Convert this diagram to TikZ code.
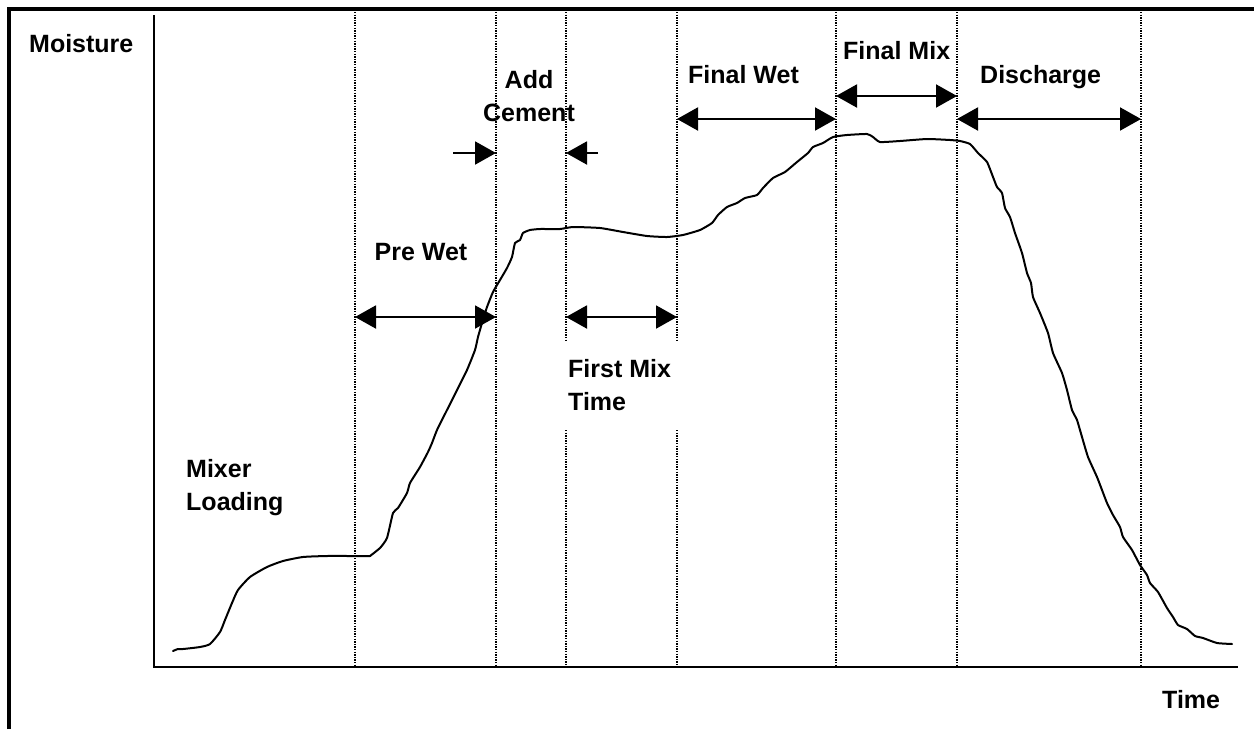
\documentclass[tikz,border=0pt]{standalone}
\usepackage{fontspec}
\setmainfont{Liberation Sans}
\usetikzlibrary{arrows.meta}
\tikzset{
  lbl/.style={font=\bfseries\fontsize{25}{33}\selectfont, inner sep=0pt, align=left},
  frameline/.style={line width=3.5pt},
  axisline/.style={line width=2pt},
  phaseline/.style={line width=1.2pt, dash pattern=on 1.3pt off 1.3pt},
  span/.style={line width=2pt, {Triangle[length=21pt,width=23pt]}-{Triangle[length=21pt,width=23pt]}},
  single/.style={line width=2pt, -{Triangle[length=21pt,width=23pt]}},
  curve/.style={line width=2pt, line join=round, line cap=round}
}
\begin{document}
\begin{tikzpicture}[x=1pt,y=-1pt]
\useasboundingbox (0,0) rectangle (1254,729);
% frame
\draw[frameline] (9,729) -- (9,9) -- (1254,9);
% axes
\draw[axisline] (154,15) -- (154,667) -- (1238,667);
% phase boundaries
\draw[phaseline] (355,12) -- (355,667);
\draw[phaseline] (496,12) -- (496,667);
\draw[phaseline] (566,12) -- (566,342);
\draw[phaseline] (566,430) -- (566,667);
\draw[phaseline] (677,12) -- (677,342);
\draw[phaseline] (677,430) -- (677,667);
\draw[phaseline] (836,12) -- (836,667);
\draw[phaseline] (957,12) -- (957,667);
\draw[phaseline] (1141,12) -- (1141,667);
% labels
\node[lbl, anchor=base west] (moist) at (29,52) {Moisture};
\node[lbl, anchor=base west] (time) at (1162,708) {Time};
\node[lbl, anchor=base west] (mixload) at (186,510) {Mixer\\Loading};
\node[lbl, anchor=base] (prewet) at (421,260) {Pre Wet};
\node[lbl, anchor=base, align=center] (addcem) at (529,121) {Add\\Cement};
\node[lbl, anchor=base west] (firstmix) at (568,410) {First Mix\\Time};
\node[lbl, anchor=base west] (finalwet) at (688,83) {Final Wet};
\node[lbl, anchor=base west] (finalmix) at (843,59) {Final Mix};
\node[lbl, anchor=base west] (disch) at (980,83) {Discharge};
% arrow end points
\coordinate (pw1) at (355,317);
\coordinate (pw2) at (496,317);
\coordinate (fm1) at (566,317);
\coordinate (fm2) at (677,317);
\coordinate (ac1) at (453,153);
\coordinate (ac2) at (496,153);
\coordinate (ac3) at (598,153);
\coordinate (ac4) at (566,153);
\coordinate (fw1) at (677,119);
\coordinate (fw2) at (836,119);
\coordinate (fx1) at (836,96);
\coordinate (fx2) at (957,96);
\coordinate (dc1) at (957,119);
\coordinate (dc2) at (1141,119);
\draw[span] (pw1) -- (pw2);
\draw[span] (fm1) -- (fm2);
\draw[single] (ac1) -- (ac2);
\draw[single] (ac3) -- (ac4);
\draw[span] (fw1) -- (fw2);
\draw[span] (fx1) -- (fx2);
\draw[span] (dc1) -- (dc2);
% moisture curve
\draw[curve] plot[smooth, tension=0.35] coordinates {
(173,651) (178,649) (183,649) (200,647) (210,644) (220,632) (225,620) (232,603) (238,590) (250,577) (267,567) (283,561) (303,557) (327,556) (350,556) (370,556)};
\draw[curve] plot[smooth, tension=0.3] coordinates {
(370,556) (380,548) (387,538) (393,513) (398,508) (407,493) (410,483) (420,467) (428,452) (432,443) (437,430) (447,410) (457,390) (467,370) (475,350) (478,337) (482,323) (487,307) (493,292) (500,280) (507,268) (512,257) (515,243) (520,240) (523,233) (530,230) (540,229) (560,229) (573,227) (600,228) (623,232) (647,236) (667,237) (683,235) (700,230) (712,223) (718,215) (727,207) (737,203) (745,198) (757,195) (763,188) (773,178) (785,172) (797,162) (808,153) (813,147) (823,143) (833,137) (847,135) (867,134) (873,137) (880,142) (900,141) (927,139) (950,140) (960,141) (970,144) (978,153) (987,162) (993,177) (997,187) (1002,193) (1005,208) (1010,217) (1015,233) (1022,253) (1027,273) (1031,283) (1033,297) (1040,313) (1048,333) (1053,353) (1062,373) (1067,390) (1072,410) (1077,420) (1082,437) (1088,457) (1097,477) (1102,490) (1107,503) (1113,515) (1120,527) (1123,537) (1132,550) (1140,565) (1147,575) (1150,583) (1158,592) (1167,608) (1173,617) (1178,625) (1187,629) (1195,636) (1203,638) (1217,643) (1232,644)};
\end{tikzpicture}
\end{document}
